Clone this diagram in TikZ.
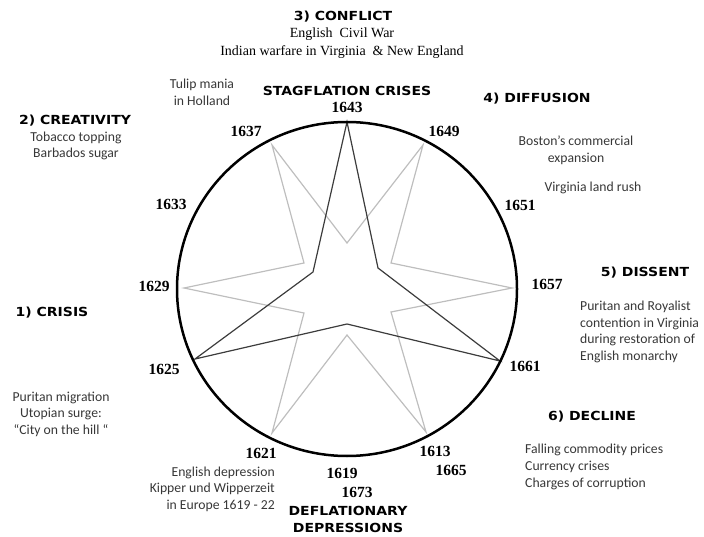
\documentclass[tikz,border=0pt]{standalone}
\usepackage{fontspec}
\setmainfont{Liberation Serif}
\newfontfamily\headfont{DejaVu Sans}[FakeStretch=1.12]
\newfontfamily\notefont{Carlito}
\definecolor{starlight}{RGB}{190,190,190}
\definecolor{stardark}{RGB}{60,60,60}
\definecolor{notegray}{RGB}{55,55,55}
\tikzset{
	year/.style={font=\fontsize{15.5}{16}\selectfont\bfseries, inner sep=0pt},
	phase/.style={font=\headfont\fontsize{12.5}{17.6}\selectfont\bfseries, inner sep=0pt, align=center},
	note/.style={font=\notefont\fontsize{13.7}{16.6}\selectfont, text=notegray, inner sep=0pt},
	event/.style={font=\fontsize{14}{18}\selectfont, inner sep=0pt, align=center},
}
\begin{document}
\begin{tikzpicture}[x=1pt, y=-1pt]
	\useasboundingbox (0,0) rectangle (704,537);
	% star points
	\coordinate (p1643) at (347,122);
	\coordinate (p1625) at (195,359);
	\coordinate (p1661) at (500,361);
	\coordinate (d1) at (313,272);
	\coordinate (d2) at (347,324);
	\coordinate (d3) at (378,268);
	\coordinate (p1637) at (272,145);
	\coordinate (p1649) at (423,145);
	\coordinate (p1657) at (512,288);
	\coordinate (p1613) at (426,432);
	\coordinate (p1621) at (272,433);
	\coordinate (p1629) at (184,288);
	\coordinate (h1) at (304,263);
	\coordinate (h2) at (347,243);
	\coordinate (h3) at (391,263);
	\coordinate (h4) at (391,312);
	\coordinate (h5) at (347,335);
	\coordinate (h6) at (304,313);
	\draw[starlight, line width=1.2pt] (p1637) -- (h2) -- (p1649) -- (h3) -- (p1657) -- (h4) -- (p1613) -- (h5) -- (p1621) -- (h6) -- (p1629) -- (h1) -- cycle;
	\draw[stardark, line width=1.2pt] (p1643) -- (d3) -- (p1661) -- (d2) -- (p1625) -- (d1) -- cycle;
	\draw[line width=2.5pt] (347,289) ellipse [x radius=170, y radius=167];
	% top
	\node[phase] (conflict) at (343,17) {3) CONFLICT};
	\node[event] (conflictev) at (342,43) {English\ \ Civil War\\Indian warfare in Virginia\ \ \& New England};
	\node[note, align=center] (tulip) at (202,92) {Tulip mania\\in Holland};
	\node[phase] (stag) at (347,91) {STAGFLATION CRISES};
	\node[year] (y1643) at (347,107) {1643};
	\node[year] (y1637) at (246,131) {1637};
	\node[year] (y1649) at (444,131) {1649};
	% right
	\node[phase] (diffusion) at (537,99) {4) DIFFUSION};
	\node[note, align=center] (boston) at (576,150.5) {Boston’s commercial\\expansion};
	\node[note] (landrush) at (593,188) {Virginia land rush};
	\node[year] (y1651) at (520,205) {1651};
	\node[year] (y1657) at (547,284) {1657};
	\node[phase] (dissent) at (645,273) {5) DISSENT};
	\node[note, align=left, anchor=west] (royalist) at (580,332) {Puritan and Royalist\\contention in Virginia\\during restoration of\\English monarchy};
	\node[year] (y1661) at (525,366) {1661};
	\node[phase] (decline) at (592,417) {6) DECLINE};
	\node[year] (y1613) at (435,451) {1613};
	\node[year] (y1665) at (451,470) {1665};
	\node[note, align=left, anchor=west] (prices) at (525,467) {Falling commodity prices\\Currency crises\\Charges of corruption};
	% left
	\node[phase] (creativity) at (75,121) {2) CREATIVITY};
	\node[note, align=center] (tobacco) at (76,146) {Tobacco topping\\Barbados sugar};
	\node[year] (y1633) at (171,204) {1633};
	\node[year] (y1629) at (154,286) {1629};
	\node[phase] (crisis) at (52,313) {1) CRISIS};
	\node[year] (y1625) at (164,369) {1625};
	\node[note, align=center] (migration) at (61,414) {Puritan migration\\Utopian surge:\\“City on the hill “};
	\node[year] (y1621) at (261,453) {1621};
	\node[note, align=right, anchor=east] (depression) at (275,489) {English depression\\Kipper und Wipperzeit\\in Europe 1619 - 22};
	% bottom
	\node[year] (y1619) at (342,473) {1619};
	\node[year] (y1673) at (357,492) {1673};
	\node[phase] (deflation) at (348,519.5) {DEFLATIONARY\\DEPRESSIONS};
\end{tikzpicture}
\end{document}
